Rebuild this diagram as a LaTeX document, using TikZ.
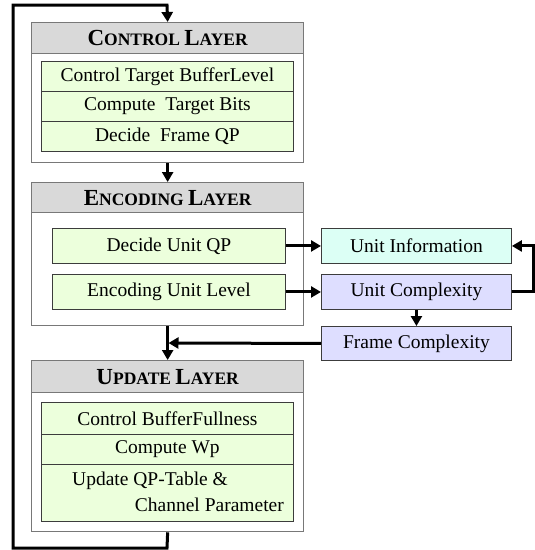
\documentclass[tikz,border=0pt]{standalone}
\usepackage{fontspec}
\setmainfont{Liberation Serif}
\usetikzlibrary{arrows.meta}
\definecolor{hdrgray}{RGB}{217,217,217}
\definecolor{rowgreen}{RGB}{236,255,220}
\definecolor{infocyan}{RGB}{220,255,245}
\definecolor{complav}{RGB}{222,222,255}
\definecolor{framegray}{RGB}{120,120,120}
\definecolor{rowline}{RGB}{60,60,60}
\newcommand\bigsc[2]{{\fontsize{23}{23}\selectfont #1}{\fontsize{17.5}{17.5}\selectfont #2}}
\newcommand\hsp{{\fontsize{17.5}{17.5}\selectfont\ }}
\begin{document}
\begin{tikzpicture}[x=1pt,y=-1pt,
  outer/.style={draw=framegray,line width=1.3pt,fill=white,anchor=north west,inner sep=0pt},
  header/.style={draw=framegray,line width=1.3pt,fill=hdrgray,anchor=north west,inner sep=0pt,font=\bfseries},
  row/.style={draw=rowline,line width=0.9pt,fill=rowgreen,anchor=north west,inner sep=0pt,font=\fontsize{19.5}{22}\selectfont},
  side/.style={draw=rowline,line width=0.9pt,anchor=north west,inner sep=0pt,font=\fontsize{19.5}{22}\selectfont,minimum width=190pt,minimum height=35pt},
  txt/.style={inner sep=0pt,font=\fontsize{19.5}{22}\selectfont},
  arr/.style={line width=3pt,-{Triangle[length=10pt,width=11pt]}},
  ln/.style={line width=3pt}
]
\useasboundingbox (0,0) rectangle (535,550);

% Control layer
\node[outer,minimum width=272pt,minimum height=140pt] (ctrl) at (31,22) {};
\node[header,minimum width=272pt,minimum height=31pt] (ctrlh) at (31,22) {\bigsc{C}{ONTROL}\hsp\bigsc{L}{AYER}};
\node[row,minimum width=252pt,minimum height=30pt] (c1) at (41,61) {Control Target BufferLevel};
\node[row,minimum width=252pt,minimum height=30pt] (c2) at (41,91) {Compute\ \ Target Bits};
\node[row,minimum width=252pt,minimum height=30pt] (c3) at (41,121) {Decide\ \ Frame QP};

% Encoding layer
\node[outer,minimum width=272pt,minimum height=143pt] (enc) at (31,182) {};
\node[header,minimum width=272pt,minimum height=30pt] (ench) at (31,182) {\bigsc{E}{NCODING}\hsp\bigsc{L}{AYER}};
\node[row,minimum width=233pt,minimum height=35pt] (dqp) at (52,228) {Decide Unit QP};
\node[row,minimum width=233pt,minimum height=35pt] (eul) at (52,274) {Encoding Unit Level};

% Side boxes
\node[side,fill=infocyan] (uinfo) at (321,228) {Unit Information};
\node[side,fill=complav] (ucomp) at (321,274) {Unit Complexity};
\node[side,fill=complav,minimum height=34pt] (fcomp) at (321,326) {Frame Complexity};

% Update layer
\node[outer,minimum width=272pt,minimum height=171pt] (upd) at (31,360) {};
\node[header,minimum width=272pt,minimum height=32pt] (updh) at (31,360) {\bigsc{U}{PDATE}\hsp\bigsc{L}{AYER}};
\node[row,minimum width=252pt,minimum height=32pt] (u1) at (41,402) {Control BufferFullness};
\node[row,minimum width=252pt,minimum height=30pt] (u2) at (41,434) {Compute Wp};
\node[row,minimum width=252pt,minimum height=57pt] (u3) at (41,464) {};
\node[txt,anchor=west] (u3a) at (72,481) {Update QP-Table \&};
\node[txt,anchor=east] (u3b) at (284,505) {Channel Parameter};

% Coordinates
\coordinate (lbr) at (167,548);
\coordinate (lbl) at (13,548);
\coordinate (ltl) at (13,5);
\coordinate (ltr) at (167,5);
\coordinate (rloop) at (533,0);
\coordinate (fjoin) at (168.5,343);

% Connectors
\draw[arr] (upd.south) -- (lbr) -- (lbl) -- (ltl) -- (ltr) -- (ctrl.north);
\draw[arr] (ctrl.south) -- (enc.north);
\draw[arr] (enc.south) -- (upd.north);
\draw[arr] (dqp.east) -- (uinfo.west);
\draw[arr] (eul.east) -- (ucomp.west);
\draw[arr] (ucomp.east) -- (ucomp.east -| rloop) |- (uinfo.east);
\draw[arr] (ucomp.south) -- (fcomp.north);
\draw[arr] (fcomp.west) -- (fjoin);
\end{tikzpicture}
\end{document}
